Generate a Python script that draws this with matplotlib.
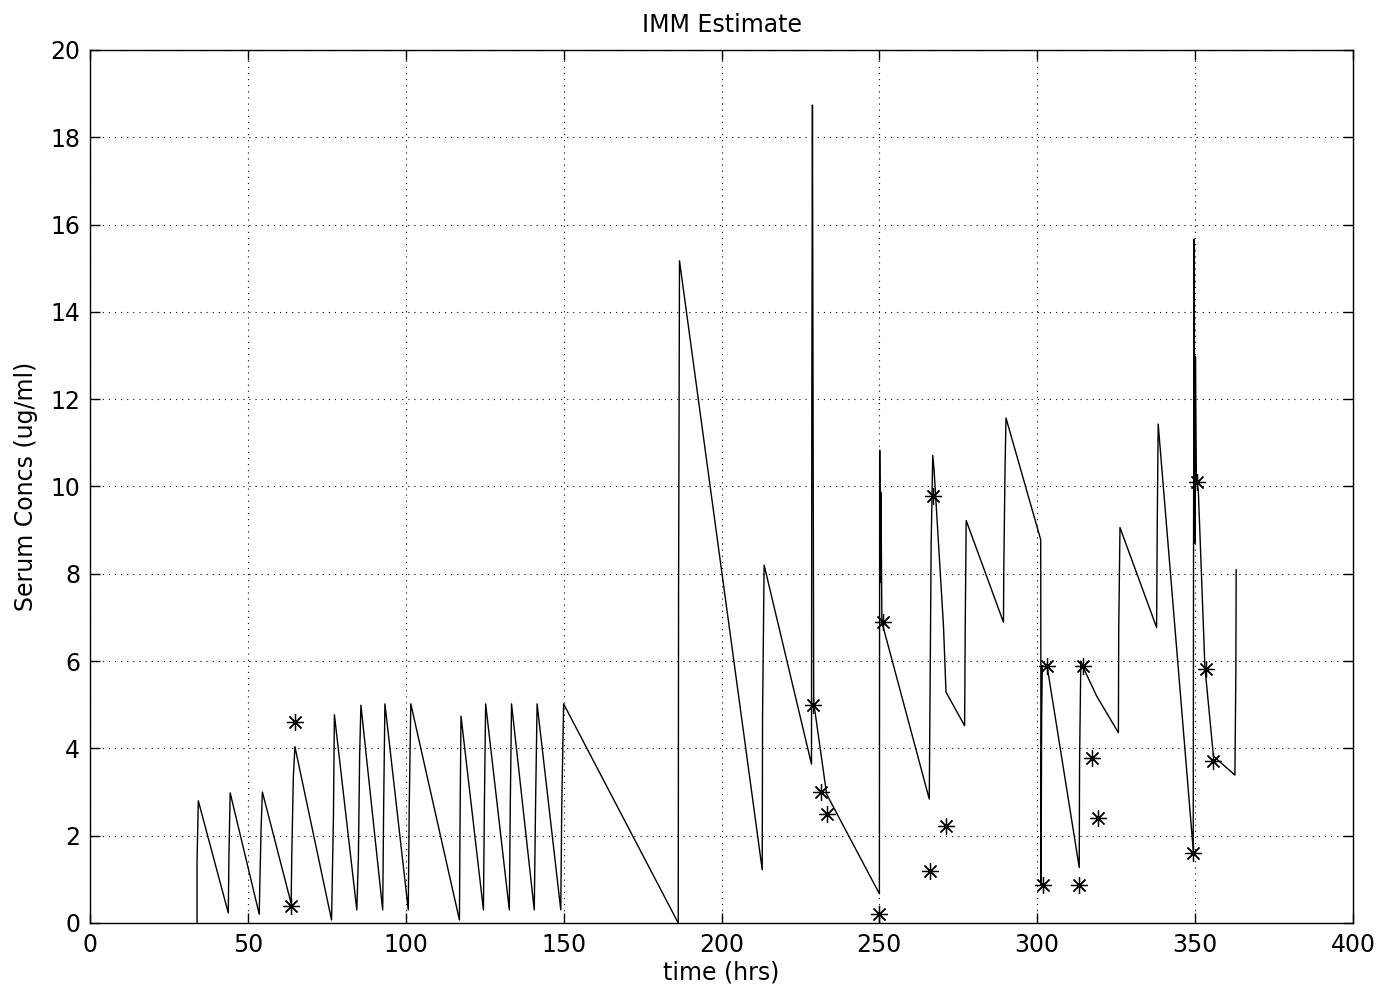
import matplotlib
matplotlib.use("Agg")
import matplotlib.pyplot as plt
import numpy as np

# IMM estimate trajectory (time in hrs, serum conc in ug/ml)
est_t = [
    33.9, 33.9, 34.3, 43.8, 44.0, 44.4, 53.6, 53.8, 54.2, 54.6,
    63.7, 63.9, 64.4, 64.9, 76.5, 77.1, 77.4, 84.5, 85.0, 85.4, 85.8,
    92.7, 93.0, 93.4, 100.8, 101.1, 101.6, 117.0, 117.2, 117.5,
    124.6, 124.9, 125.3, 132.8, 133.1, 133.5, 140.7, 141.1, 141.6,
    149.1, 149.4, 150.0, 186.3, 186.4, 186.7, 212.9, 213.0, 213.5,
    228.5, 228.6, 228.8, 229.0, 229.2, 229.6, 233.3, 250.0,
    250.1, 250.4, 250.5, 250.8, 265.8, 266.0, 266.4, 266.9, 267.3,
    270.3, 271.1, 277.0, 277.2, 277.5, 289.3, 289.4, 289.8, 290.1,
    301.1, 301.2, 301.4, 301.6, 303.2, 313.3, 313.4, 313.8, 314.6,
    318.8, 325.7, 325.8, 326.2, 337.8, 338.0, 338.3, 349.4,
    349.5, 349.7, 349.9, 350.1, 350.4, 351.0, 353.1, 355.8, 362.6,
    362.9, 363.0,
]
est_c = [
    0.0, 1.4, 2.8, 0.23, 1.55, 2.98, 0.2, 0.95, 2.2, 3.0,
    0.45, 1.52, 3.35, 4.04, 0.07, 2.44, 4.77, 0.3, 1.48, 3.85, 4.99,
    0.3, 2.66, 5.02, 0.3, 2.66, 5.02, 0.07, 2.36, 4.74,
    0.3, 2.66, 5.02, 0.3, 2.66, 5.02, 0.3, 2.66, 5.02,
    0.3, 2.66, 5.02, 0.0, 7.55, 15.17, 1.22, 4.71, 8.2,
    3.64, 11.9, 18.74, 11.9, 5.0, 4.85, 2.95, 0.67,
    10.83, 7.8, 9.86, 6.89, 2.84, 4.76, 8.7, 10.71, 10.4,
    6.81, 5.29, 4.52, 6.89, 9.22, 6.89, 8.06, 10.43, 11.57,
    8.78, 0.87, 4.8, 5.9, 5.85, 1.27, 3.68, 6.0, 5.85,
    5.2, 4.36, 6.69, 9.06, 6.77, 9.1, 11.43, 1.67,
    8.65, 15.67, 8.7, 12.97, 10.12, 9.93, 5.86, 3.82, 3.39,
    5.76, 8.09,
]

# measured concentrations (asterisks)
meas_t = [64.9, 63.7, 229.1, 231.4, 233.3, 250.0, 251.3, 266.0, 267.1, 271.0,
          301.7, 303.0, 313.3, 314.6, 317.2, 319.3, 349.4, 350.7, 353.3, 355.8]
meas_c = [4.61, 0.40, 5.0, 3.0, 2.5, 0.21, 6.89, 1.2, 9.78, 2.22,
          0.87, 5.89, 0.88, 5.89, 3.78, 2.41, 1.61, 10.1, 5.81, 3.72]

x_ticks = list(range(0, 401, 50))
y_ticks = list(range(0, 21, 2))

plt.rcParams["font.family"] = ["DejaVu Sans"]
plt.rcParams["font.size"] = 17

fig = plt.figure(figsize=(13.82, 9.9), dpi=100)
ax = fig.add_axes([90 / 1382, 67 / 990, 1263 / 1382, 873 / 990])

ax.plot(est_t, est_c, color="black", linewidth=1.0)
ax.plot(meas_t, meas_c, linestyle="none", marker=(8, 2, 0), markersize=12,
        markeredgewidth=0.9, color="black")

ax.set_xlim(0, 400)
ax.set_ylim(0, 20)
ax.set_xticks(x_ticks)
ax.set_yticks(y_ticks)
ax.grid(True, color="black", linestyle=(0, (1, 4.5)), linewidth=0.8)
ax.tick_params(direction="in", length=7, width=1, top=True, right=True,
               labelsize=17, pad=7)
for spine in ax.spines.values():
    spine.set_linewidth(1.0)

ax.set_title("IMM Estimate", fontsize=17, pad=13)
ax.set_xlabel("time (hrs)", fontsize=17, labelpad=3)
ax.set_ylabel("Serum Concs (ug/ml)", fontsize=17, labelpad=9)

fig.savefig("out.png", dpi=100)
